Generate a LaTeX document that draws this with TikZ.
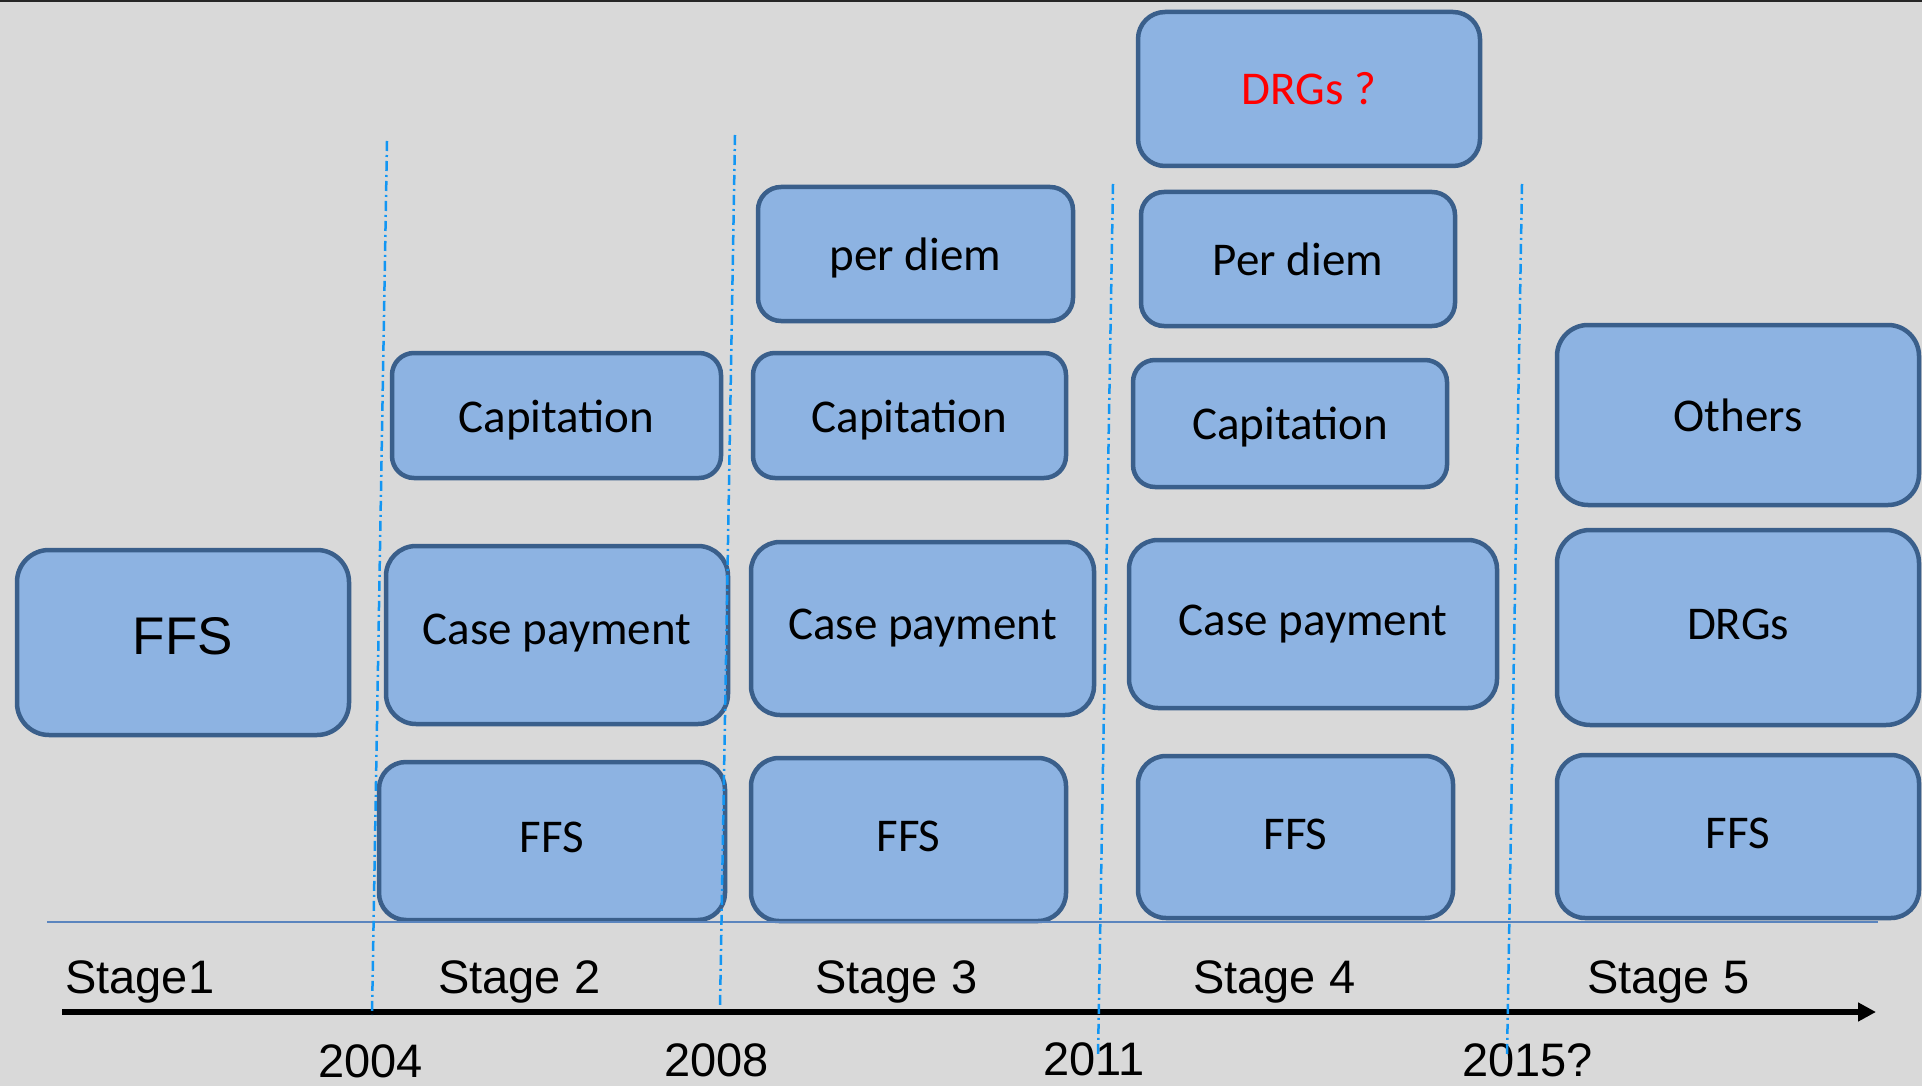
\documentclass[tikz,border=0pt]{standalone}
\usepackage{fontspec}
\setmainfont{Carlito}
\newfontfamily\arialf{Liberation Sans}
\usetikzlibrary{arrows.meta}
\definecolor{bg}{HTML}{D9D9D9}
\definecolor{boxfill}{HTML}{8DB3E2}
\definecolor{boxline}{HTML}{3A5F8B}
\definecolor{dashblue}{HTML}{1296F3}
\definecolor{thinblue}{HTML}{5B85BE}
\definecolor{topline}{HTML}{262626}
\newcommand\mybox[8]{\node[pbox=#6, minimum width={#4-#2-4}, minimum height={#5-#3-4}, #8] (#1) at ({(#2+#4)/2},{(#3+#5)/2}) {#7};}
\begin{document}
\begin{tikzpicture}[x=1pt,y=-1pt,
  pbox/.style={draw=boxline, fill=boxfill, line width=4.5pt, rounded corners=#1, inner sep=0pt,
    font=\fontsize{47}{56}\selectfont, text height=29.5pt, text depth=0pt, align=center},
  up/.style={text depth=#1},
  down/.style={text height=#1},
  stagelbl/.style={anchor=base west, inner sep=0pt, font=\arialf\fontsize{47}{56}\selectfont},
  divline/.style={draw=dashblue, line width=2.5pt, dash pattern=on 10pt off 4pt on 2pt off 4pt},
  timeaxis/.style={line width=6pt, -{Triangle[length=18pt,width=18pt]}},
  baseln/.style={draw=thinblue, line width=2pt}]
\useasboundingbox (0,0) rectangle (1925,1086);
\fill[bg] (0,0) rectangle (1922,1086);
\fill[topline] (0,0) rectangle (1922,2.5);

% Stage 1
\node[pbox=32, minimum width=332, minimum height=185, font=\arialf\fontsize{53}{60}\selectfont, text height=38pt, text depth=14pt] (ffs1) at (183,642.5) {FFS};

% Stage 2
\mybox{cap2}{390}{351}{723}{480}{22}{Capitation}{down=33pt}
\mybox{case2}{384}{544}{730}{726}{30}{Case payment}{up=10pt}
\mybox{ffs2}{377}{760}{727}{922}{27}{FFS}{up=6pt}

% Stage 3
\mybox{diem3}{756}{185}{1075}{323}{23}{per diem}{down=32pt}
\mybox{cap3}{751}{351}{1068}{480}{22}{Capitation}{down=33pt}
\mybox{case3}{749}{540}{1096}{717}{29}{Case payment}{up=8pt}
\mybox{ffs3}{749}{756}{1068}{923}{28}{FFS}{up=6pt}

% Stage 4
\mybox{drgq}{1136}{10}{1482}{168}{27}{\textcolor{red}{DRGs ?}}{down=31pt}
\mybox{diem4}{1139}{190}{1457}{328}{23}{Per diem}{down=32pt}
\mybox{cap4}{1131}{358}{1449}{489}{22}{Capitation}{down=32pt}
\mybox{case4}{1127}{538}{1499}{710}{29}{Case payment}{up=6pt}
\mybox{ffs4}{1136}{754}{1455}{920}{28}{FFS}{up=5pt}

% Stage 5
\mybox{oth5}{1555}{323}{1921}{507}{31}{Others}{down=33pt}
\mybox{drg5}{1555}{528}{1921}{727}{33}{DRGs}{up=6pt}
\mybox{ffs5}{1555}{753}{1921}{920}{28}{FFS}{up=5pt}

% base line and time axis
\coordinate (bl0) at (47,922);
\coordinate (bl1) at (1878,922);
\draw[baseln] (bl0) -- (bl1);
\coordinate (ax0) at (62,1012);
\coordinate (ax1) at (1876,1012);
\draw[timeaxis] (ax0) -- (ax1);

% stage labels
\node[stagelbl] (s1) at (65,993) {Stage1};
\node[stagelbl] (s2) at (438,993) {Stage 2};
\node[stagelbl] (s3) at (815,993) {Stage 3};
\node[stagelbl] (s4) at (1193,993) {Stage 4};
\node[stagelbl] (s5) at (1587,993) {Stage 5};

% years
\node[stagelbl] (y1) at (318,1077) {2004};
\node[stagelbl] (y2) at (664,1076) {2008};
\node[stagelbl] (y3) at (1043,1075) {2011};
\node[stagelbl] (y4) at (1462,1076) {2015?};

% dividers
\coordinate (d1t) at (387,141);  \coordinate (d1b) at (372,1015);
\coordinate (d2t) at (735,135);  \coordinate (d2b) at (720,1008);
\coordinate (d3t) at (1113,184); \coordinate (d3b) at (1098,1057);
\coordinate (d4t) at (1522,184); \coordinate (d4b) at (1507,1057);
\draw[divline] (d1t) -- (d1b);
\draw[divline] (d2t) -- (d2b);
\draw[divline] (d3t) -- (d3b);
\draw[divline] (d4t) -- (d4b);
\end{tikzpicture}
\end{document}
